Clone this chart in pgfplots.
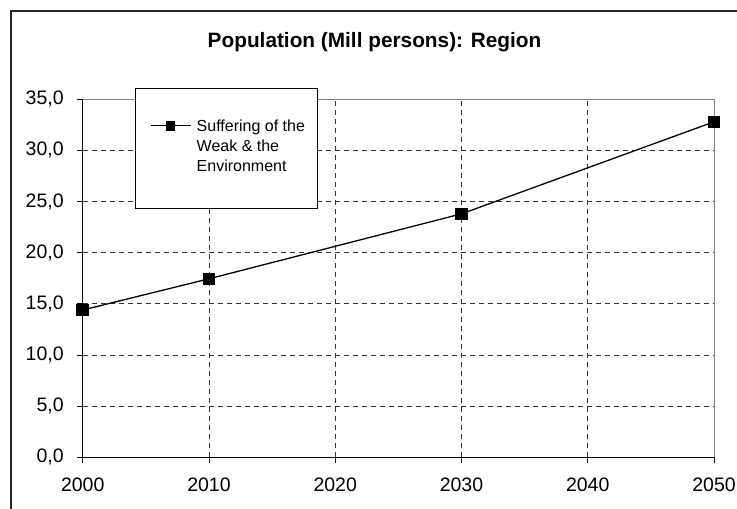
\documentclass[border=0pt]{standalone}
\usepackage{fontspec}
\setmainfont{Liberation Sans}
\usepackage{pgfplots}
\pgfplotsset{compat=1.18}

\begin{document}
\begin{tikzpicture}[x=1bp,y=1bp]
\useasboundingbox (0,0) rectangle (737,509);
% chart area frame (its right and bottom edges lie beyond the page)
\draw[line width=1.3bp, black!85] (11,-20) -- (11,498) -- (760,498);
\node[font=\fontsize{20.8bp}{24bp}\selectfont\bfseries, anchor=base, inner sep=0pt]
  at (374.5,461.7) {Population (Mill persons): Region};

\begin{axis}[
  at={(82.7bp,51.7bp)}, anchor=south west,
  scale only axis, width=631.3bp, height=358bp,
  xmin=2000, xmax=2050, ymin=0, ymax=35,
  xtick={2000,2010,...,2050}, ytick={0,5,...,35},
  clip=false,
  axis line style={draw=none},
  tick align=outside, major tick length=5.5bp,
  xtick pos=bottom, ytick pos=left,
  tick style={black, line width=0.8bp},
  xmajorgrids, ymajorgrids,
  major grid style={black!80, line width=0.8bp, dash pattern=on 5.5bp off 3.5bp},
  /pgf/number format/assume math mode=true,
  ticklabel style={font=\fontsize{19.5bp}{23bp}\selectfont},
  yticklabel style={xshift=-10bp, /pgf/number format/.cd, fixed, fixed zerofill, precision=1, use comma},
  xticklabel style={yshift=-12bp, /pgf/number format/.cd, set thousands separator={}},
  legend style={at={(axis description cs:0.084,1.0307)}, anchor=north west,
    draw=none, fill=none,
    inner xsep=14bp, inner ysep=27.5bp,
    font=\fontsize{16bp}{20bp}\selectfont, cells={anchor=west}},
  legend image code/.code={
    \draw[#1, mark=none] (0bp,0bp) -- (40bp,0bp);
    \draw[#1, mark size=4.2bp] plot coordinates {(20bp,0bp)};
  },
]
% plot area border: grey top and right, black left and bottom
\draw[black!50, line width=1bp] (axis description cs:0,1) -- (axis description cs:1,1) -- (axis description cs:1,0);
\draw[black, line width=1.1bp] (axis description cs:0,1) -- (axis description cs:0,0) -- (axis description cs:1,0);

\addplot[black, line width=1.3bp, mark=square*, mark size=5.6bp, mark options={solid}]
  coordinates {(2000,14.4) (2010,17.45) (2030,23.8) (2050,32.8)};
\addlegendentry{\hspace*{3.5bp}\begin{tabular}[t]{@{}l@{}}Suffering of the\\Weak \& the\\Environment\end{tabular}}

% legend frame, white so the grid does not show through
\draw[black, line width=0.8bp, fill=white]
  (axis description cs:0.08395,1.0307) rectangle (axis description cs:0.37225,0.6955);
\end{axis}
\end{tikzpicture}
\end{document}
